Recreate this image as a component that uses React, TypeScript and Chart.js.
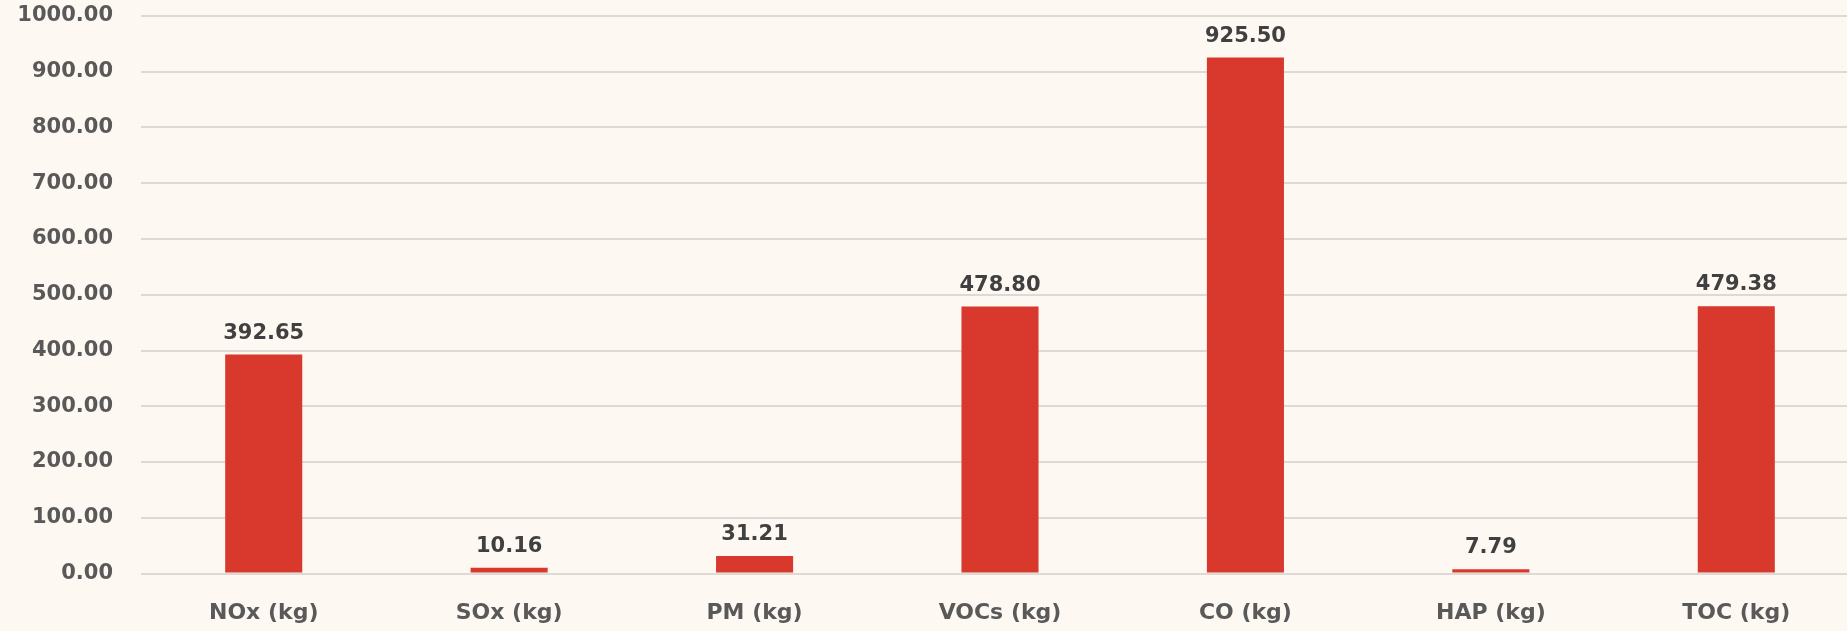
import React, { useEffect, useRef } from "react";
import { Chart, registerables } from "chart.js";

Chart.register(...registerables);

const categories = ["NOx (kg)", "SOx (kg)", "PM (kg)", "VOCs (kg)", "CO (kg)", "HAP (kg)", "TOC (kg)"];
const emissions = [392.65, 10.16, 31.21, 478.8, 925.5, 7.79, 479.38];
const yMin = 0;
const yMax = 1000;
const yStep = 100;

const FONT = "'DejaVu Sans', 'Open Sans', sans-serif";

const dataLabelPlugin = {
  id: "dataLabels",
  afterDatasetsDraw(chart: any) {
    const ctx = chart.ctx;
    const meta = chart.getDatasetMeta(0);
    ctx.save();
    ctx.font = `bold 21px ${FONT}`;
    ctx.fillStyle = "#404040";
    ctx.textAlign = "center";
    ctx.textBaseline = "alphabetic";
    meta.data.forEach((bar: any, i: number) => {
      const v = chart.data.datasets[0].data[i] as number;
      ctx.fillText(v.toFixed(2), bar.x, bar.y - 16);
    });
    ctx.restore();
  },
};

export default function App() {
  const ref = useRef<HTMLCanvasElement>(null);
  useEffect(() => {
    if (!ref.current) return;
    const chart = new Chart(ref.current, {
      type: "bar",
      data: {
        labels: categories,
        datasets: [
          {
            data: emissions,
            backgroundColor: "#D9392C",
            borderWidth: 0,
            barPercentage: 1,
            categoryPercentage: 0.314,
          },
        ],
      },
      options: {
        responsive: false,
        animation: false,
        devicePixelRatio: 1,
        layout: { padding: { top: 16, left: 0, right: 0, bottom: 0 } },
        plugins: { legend: { display: false }, tooltip: { enabled: false } },
        scales: {
          x: {
            grid: { display: false },
            border: { display: false },
            ticks: {
              color: "#595959",
              font: { family: FONT, size: 22, weight: "bold" },
              padding: 19,
              maxRotation: 0,
            },
            afterFit: (s: any) => {
              s.height = 57.5;
              s.paddingLeft = 0;
              s.paddingRight = 0;
            },
          },
          y: {
            min: yMin,
            max: yMax,
            grid: { color: "#DDDAD6", lineWidth: 2, drawTicks: false },
            border: { display: false },
            ticks: {
              stepSize: yStep,
              color: "#595959",
              font: { family: FONT, size: 21, weight: "bold" },
              padding: 28,
              callback: (v: any) => Number(v).toFixed(2),
            },
            afterFit: (s: any) => {
              s.width = 141;
              s.paddingTop = 0;
              s.paddingBottom = 0;
            },
          },
        },
      },
      plugins: [dataLabelPlugin],
    });
    return () => chart.destroy();
  }, []);
  return (
    <div
      style={{
        position: "fixed",
        left: 0,
        top: 0,
        width: 1847,
        height: 631,
        overflow: "hidden",
        background: "#FDF8F2",
      }}
    >
      <canvas ref={ref} width={1859} height={631} style={{ display: "block" }} />
    </div>
  );
}
